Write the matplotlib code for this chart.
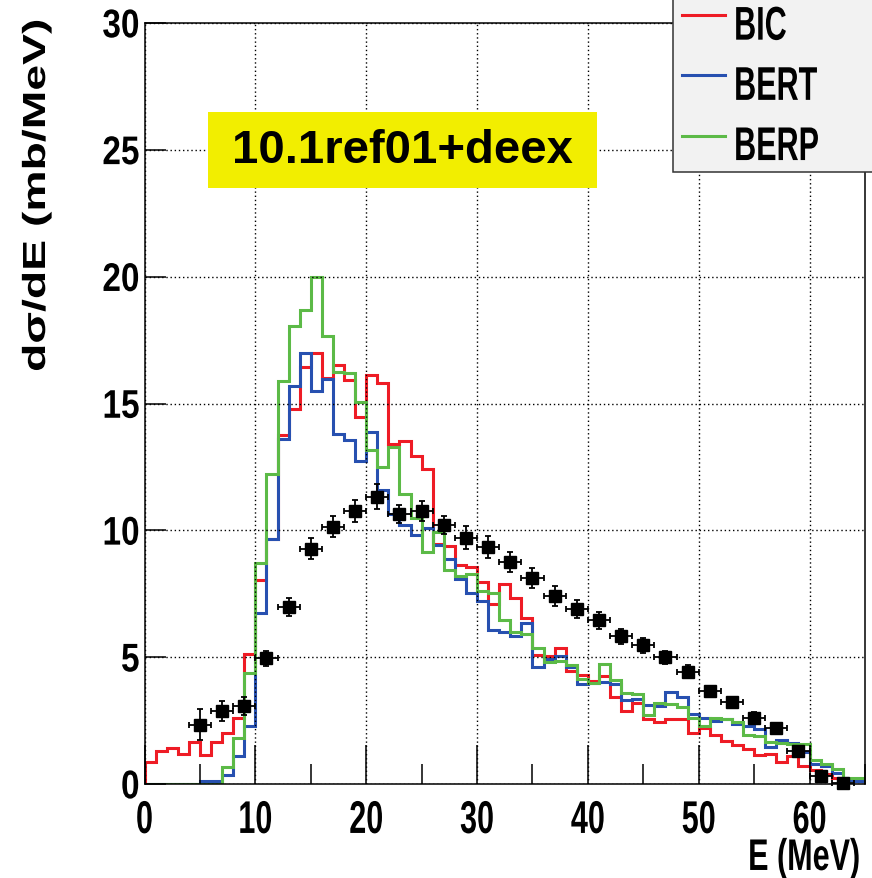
import numpy as np
import matplotlib as mpl
mpl.use('Agg')
import matplotlib.pyplot as plt
import matplotlib.ticker as plticker
from matplotlib.patches import Rectangle
from matplotlib.patheffects import AbstractPathEffect
from matplotlib.transforms import Affine2D

# histogram contents, one value per 1 MeV bin, 0..65 MeV
bin_edges = np.arange(0, 66, 1)
bic = [0.88, 1.29, 1.42, 1.18, 1.64, 1.15, 1.64, 2.0, 2.62, 5.14,
       8.05, 9.65, 13.74, 14.8, 16.44, 17.0, 16.0, 16.5, 15.94, 14.48,
       16.14, 15.81, 13.4, 13.52, 12.93, 12.4, 9.45, 9.38, 8.63, 8.56,
       7.98, 7.09, 7.87, 7.35, 6.56, 5.1, 5.05, 5.35, 4.44, 4.3,
       4.05, 4.24, 3.43, 2.87, 3.19, 2.56, 2.43, 2.56, 2.56, 2.03,
       2.2, 1.95, 1.69, 1.52, 1.38, 1.16, 1.2, 0.88, 1.1, 0.72,
       0.55, 0.4, 0.22, 0.15, 0.1]
bert = [0, 0, 0, 0, 0, 0.1, 0.1, 0.35, 1.12, 2.3,
        6.73, 9.67, 13.6, 15.68, 17.0, 15.49, 15.97, 13.78, 13.58, 12.73,
        13.87, 11.59, 10.63, 10.2, 9.8, 10.1, 9.41, 8.88, 8.07, 7.52,
        7.22, 6.06, 6.0, 5.82, 6.34, 4.6, 4.92, 5.05, 4.6, 3.94,
        4.0, 4.03, 3.95, 3.3, 3.35, 3.1, 3.06, 3.62, 3.43, 2.76,
        2.62, 2.5, 2.56, 2.36, 2.27, 2.15, 1.45, 1.72, 1.6, 1.28,
        0.78, 0.72, 0.45, 0.15, 0.1]
berp = [0, 0, 0, 0, 0, 0, 0, 0.68, 1.8, 4.37,
        8.7, 12.23, 15.88, 18.04, 18.67, 20.0, 17.68, 16.23, 16.2, 15.05,
        13.16, 12.5, 13.29, 11.42, 10.5, 9.15, 9.93, 8.44, 8.2, 8.29,
        7.59, 7.52, 6.46, 5.98, 5.9, 5.35, 4.8, 4.86, 4.68, 4.15,
        3.97, 4.72, 4.1, 3.58, 3.54, 2.73, 3.19, 3.15, 3.05, 2.62,
        2.3, 2.6, 2.55, 2.45, 1.92, 1.9, 1.65, 1.6, 1.57, 1.57,
        0.94, 0.77, 0.59, 0.22, 0.22]

# measured points
exp_e = [5, 7, 9, 11, 13, 15, 17, 19, 21, 23, 25, 27, 29, 31, 33,
         35, 37, 39, 41, 43, 45, 47, 49, 51, 53, 55, 57, 59, 61, 63]
exp_v = [2.34, 2.89, 3.08, 4.95, 6.98, 9.28, 10.15, 10.76, 11.33, 10.65,
         10.76, 10.21, 9.71, 9.34, 8.75, 8.12, 7.41, 6.91, 6.46, 5.82,
         5.46, 4.99, 4.43, 3.67, 3.24, 2.62, 2.21, 1.31, 0.33, 0.05]
exp_err = [0.6, 0.4, 0.35, 0.3, 0.35, 0.4, 0.4, 0.45, 0.5, 0.36,
           0.41, 0.36, 0.46, 0.43, 0.41, 0.4, 0.38, 0.35, 0.33, 0.3,
           0.3, 0.25, 0.25, 0.2, 0.2, 0.2, 0.2, 0.15, 0.1, 0.1]
exp_dE = 1.0

labels = ['BIC', 'BERT', 'BERP']
x_ticks = [0, 10, 20, 30, 40, 50, 60]
y_ticks = [0, 5, 10, 15, 20, 25, 30]


class Stretch(AbstractPathEffect):
    # scales the glyph outlines around a point of their own box
    def __init__(self, sx=1.0, sy=1.0, hx='center', vy='center'):
        super().__init__()
        self.sx, self.sy, self.hx, self.vy = sx, sy, hx, vy

    def draw_path(self, renderer, gc, tpath, affine, rgbFace=None):
        ext = tpath.get_extents()
        cx = {'left': ext.x0, 'center': 0.5 * (ext.x0 + ext.x1), 'right': ext.x1}[self.hx]
        cy = {'bottom': ext.y0, 'center': 0.5 * (ext.y0 + ext.y1), 'top': ext.y1}[self.vy]
        t = Affine2D().translate(-cx, -cy).scale(self.sx, self.sy).translate(cx, cy) + affine
        renderer.draw_path(gc, tpath, t, rgbFace)


plt.rcParams['font.family'] = ['Liberation Sans', 'DejaVu Sans']
plt.rcParams['font.weight'] = 'bold'

W, H = 872, 879
cred = '#ee1c25'
cblue = '#2750b0'
cgreen = '#5cba47'

fig = plt.figure(figsize=(W / 100, H / 100), dpi=100)
fig.patch.set_facecolor('white')
ax = fig.add_axes([144.5 / W, 1 - 785 / H, (865 - 144.5) / W, (785 - 24) / H])

h1 = ax.stairs(bic, bin_edges, color=cred, linewidth=2.2, label=labels[0])
h2 = ax.stairs(bert, bin_edges, color=cblue, linewidth=2.2, label=labels[1])
h3 = ax.stairs(berp, bin_edges, color=cgreen, linewidth=2.2, label=labels[2])

ax.errorbar(exp_e, exp_v, xerr=exp_dE, yerr=exp_err, fmt='s', color='black',
            ms=8.3, elinewidth=1.3, capsize=2.0, capthick=1.3, zorder=5, clip_on=False)

ax.set_xlim(0, 65)
ax.set_ylim(0, 30)
ax.set_xticks(x_ticks)
ax.set_yticks(y_ticks)
ax.xaxis.set_minor_locator(plticker.MultipleLocator(5))
ax.tick_params(axis='x', which='major', direction='in', length=28, width=1.1,
               labelsize=22, pad=11)
ax.tick_params(axis='x', which='minor', direction='in', length=14.5, width=1.1)
ax.tick_params(axis='y', which='major', direction='in', length=15, width=1.1,
               labelsize=24, pad=3.5)
ax.grid(True, which='major', color='black', linestyle=(0, (1, 2)), linewidth=1.0)
for s in ax.spines.values():
    s.set_linewidth(1.1)

for lbl in ax.get_xticklabels():
    lbl.set_path_effects([Stretch(1.0, 1.5, 'center', 'top')])
for lbl in ax.get_yticklabels():
    lbl.set_path_effects([Stretch(1.0, 1.2, 'center', 'center')])

# axis titles, ROOT style
fig.text(37 / W, 1 - 20 / H, 'd\u03c3/dE (mb/MeV)', rotation=90, ha='center', va='top',
         fontsize=23, weight='bold',
         path_effects=[Stretch(1.45, 1.0, 'right', 'center')])
fig.text(860 / W, 1 - 838 / H, 'E (MeV)', ha='right', va='top', fontsize=22, weight='bold',
         path_effects=[Stretch(1.0, 1.45, 'center', 'top')])

# yellow tag
fig.add_artist(Rectangle((208 / W, 1 - 189 / H), (597 - 208) / W, (189 - 113) / H,
                         transform=fig.transFigure, facecolor='#f2ee00', edgecolor='none'))
fig.text(402 / W, 1 - 151 / H, '10.1ref01+deex', ha='center', va='center',
         fontsize=34, weight='bold')

leg = ax.legend(handles=[h1, h2, h3], loc='lower left',
                bbox_to_anchor=(673 / W, 1 - 173 / H, 215 / W, 0.3),
                bbox_transform=fig.transFigure, mode='expand', borderaxespad=0,
                prop={'weight': 'bold', 'size': 22}, handlelength=1.4,
                handletextpad=0.3, borderpad=0.3, labelspacing=0.75, handleheight=1.5,
                fancybox=False, framealpha=1.0, edgecolor='#333333', facecolor='#f2f2f2')
leg.get_frame().set_linewidth(1.1)
for t in leg.get_texts():
    t.set_path_effects([Stretch(1.0, 1.55, 'center', 'center')])

fig.savefig('out.png', dpi=100, facecolor='white')
